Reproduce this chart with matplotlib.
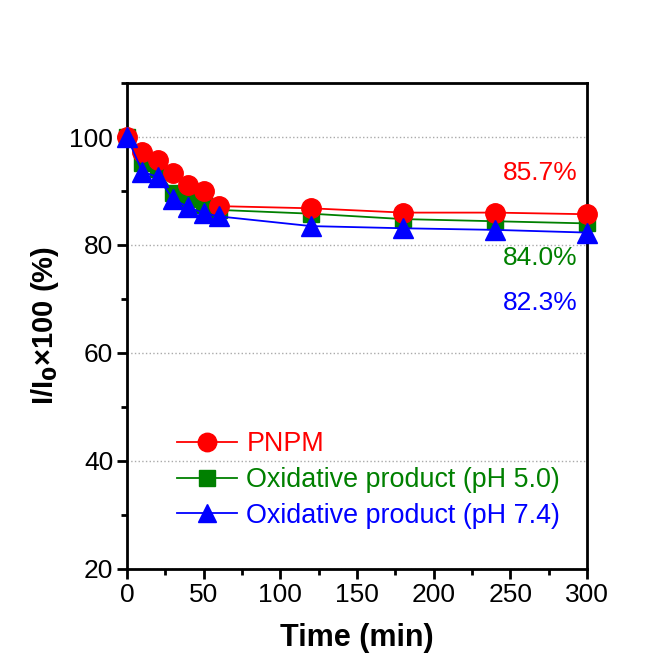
import matplotlib.pyplot as plt
from matplotlib.ticker import MultipleLocator

plt.rcParams['font.family'] = ['Liberation Sans', 'DejaVu Sans']

# time points (min)
time = [0, 10, 20, 30, 40, 50, 60, 120, 180, 240, 300]

# normalised intensity I/I0 x 100 (%)
pnpm = [100, 97.3, 95.7, 93.3, 91.1, 90.0, 87.2, 86.8, 86.0, 86.0, 85.7]
ox_ph50 = [100, 95.2, 94.0, 89.6, 88.5, 87.5, 86.5, 85.8, 84.8, 84.4, 84.0]
ox_ph74 = [100, 93.6, 92.6, 88.5, 87.0, 85.9, 85.3, 83.5, 83.1, 82.8, 82.3]

labels = ['PNPM', 'Oxidative product (pH 5.0)', 'Oxidative product (pH 7.4)']
colors = ['#ff0000', '#008000', '#0000ff']
end_text = ['85.7%', '84.0%', '82.3%']
end_text_y = [93.4, 77.6, 69.3]

fig = plt.figure(figsize=(6.65, 6.70), dpi=100)
ax = fig.add_axes([0.191, 0.151, 0.692, 0.725])

ax.plot(time, pnpm, '-o', color=colors[0], lw=1.3, ms=14, label=labels[0], clip_on=False, zorder=5)
ax.plot(time, ox_ph50, '-s', color=colors[1], lw=1.3, ms=12, label=labels[1], clip_on=False, zorder=4)
ax.plot(time, ox_ph74, '-^', color=colors[2], lw=1.3, ms=14, label=labels[2], clip_on=False, zorder=6)

for txt, ty, c in zip(end_text, end_text_y, colors):
    ax.text(294, ty, txt, color=c, fontsize=19, ha='right', va='center')

ax.set_xlim(0, 300)
ax.set_ylim(20, 110)
ax.xaxis.set_major_locator(MultipleLocator(50))
ax.xaxis.set_minor_locator(MultipleLocator(25))
ax.yaxis.set_major_locator(MultipleLocator(20))
ax.yaxis.set_minor_locator(MultipleLocator(10))

ax.grid(axis='y', which='major', linestyle=':', color='#aaaaaa', lw=1)
ax.set_axisbelow(True)

for s in ax.spines.values():
    s.set_linewidth(2)
ax.tick_params(which='major', direction='out', length=7, width=2, labelsize=19, pad=3)
ax.tick_params(which='minor', direction='out', length=4, width=2)

ax.set_xlabel('Time (min)', fontsize=22, fontweight='bold', labelpad=12)
ax.set_ylabel('I/I$_\\mathbf{0}$×100 (%)', fontsize=21, fontweight='bold', labelpad=6)

leg = ax.legend(loc='upper left', bbox_to_anchor=(0.055, 0.333), frameon=False,
                fontsize=19.4, handlelength=2.26, handletextpad=0.33, labelspacing=0.36,
                markerscale=0.95)
for t, c in zip(leg.get_texts(), colors):
    t.set_color(c)

fig.savefig('out.png', dpi=100, facecolor='white')
